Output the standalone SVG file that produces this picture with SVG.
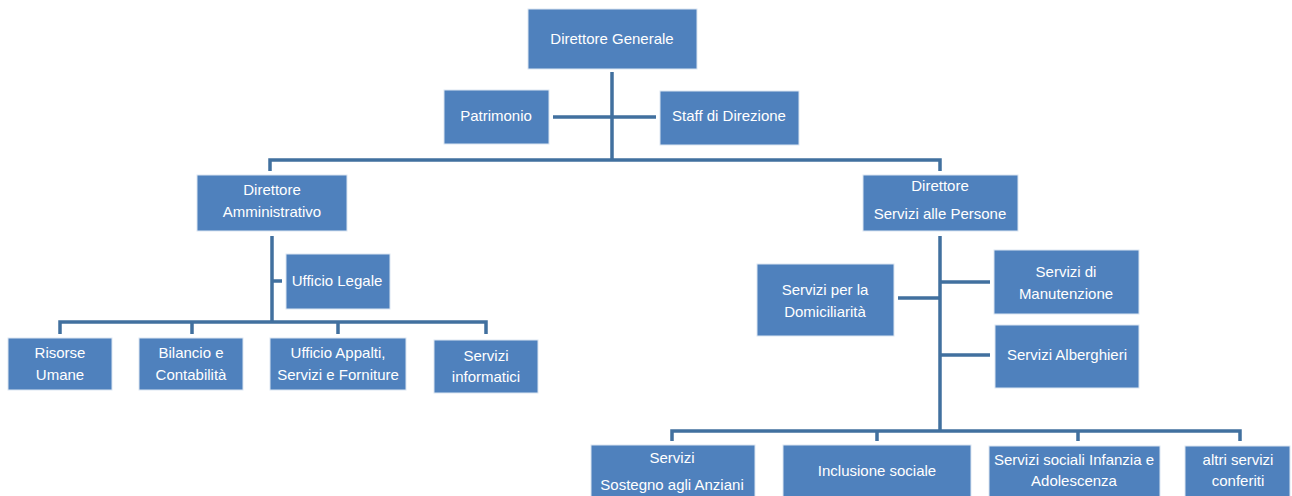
<svg xmlns="http://www.w3.org/2000/svg" width="1292" height="496" viewBox="0 0 1292 496">
<style>
.box{fill:#4F81BD;stroke:#DCE6F2;stroke-width:1}
.t{font-family:"Liberation Sans",Arial,sans-serif;font-size:15px;fill:#FFFFFF;text-anchor:middle}
.c{stroke:#41709F;stroke-width:3.5;fill:none}
</style>
<rect width="1292" height="496" fill="#FFFFFF"/>
<g id="connectors">
<path class="c" d="M612 72V161M553 117H656M270 171V160H940V171"/>
<path class="c" d="M272 236V322M272 281H282M60 334V322H486V334M192 322V334M338 322V334"/>
<path class="c" d="M940 236V431M898 298H940M940 282H990M940 355H990M672 441V431H1240V441M877 431V441M1078 431V441"/>
</g>
<g id="dg"><rect class="box" x="528" y="9" width="169" height="60"/><text class="t" x="612" y="44">Direttore Generale</text></g>
<g id="patrimonio"><rect class="box" x="444" y="90" width="105" height="54"/><text class="t" x="496" y="121">Patrimonio</text></g>
<g id="staff"><rect class="box" x="660" y="91" width="139" height="54"/><text class="t" x="729" y="121">Staff di Direzione</text></g>
<g id="da"><rect class="box" x="197" y="175" width="150" height="56"/><text class="t" x="272" y="195">Direttore</text><text class="t" x="272" y="217">Amministrativo</text></g>
<g id="dsp"><rect class="box" x="863" y="175" width="155" height="56"/><text class="t" x="940" y="191">Direttore</text><text class="t" x="940" y="219">Servizi alle Persone</text></g>
<g id="legale"><rect class="box" x="286" y="254" width="104" height="55"/><text class="t" x="337" y="286">Ufficio Legale</text></g>
<g id="risorse"><rect class="box" x="8" y="338" width="104" height="52"/><text class="t" x="60" y="358">Risorse</text><text class="t" x="60" y="380">Umane</text></g>
<g id="bilancio"><rect class="box" x="139" y="338" width="104" height="52"/><text class="t" x="191" y="358">Bilancio e</text><text class="t" x="191" y="380">Contabilità</text></g>
<g id="appalti"><rect class="box" x="270" y="338" width="136" height="52"/><text class="t" x="338" y="358">Ufficio Appalti,</text><text class="t" x="338" y="380">Servizi e Forniture</text></g>
<g id="informatici"><rect class="box" x="434" y="340" width="104" height="53"/><text class="t" x="486" y="361">Servizi</text><text class="t" x="486" y="382">informatici</text></g>
<g id="domiciliarita"><rect class="box" x="757" y="264" width="137" height="72"/><text class="t" x="825" y="295">Servizi  per la</text><text class="t" x="825" y="317">Domiciliarità</text></g>
<g id="manutenzione"><rect class="box" x="994" y="250" width="145" height="64"/><text class="t" x="1066" y="277">Servizi  di</text><text class="t" x="1066" y="299">Manutenzione</text></g>
<g id="alberghieri"><rect class="box" x="995" y="325" width="144" height="63"/><text class="t" x="1067" y="360">Servizi Alberghieri</text></g>
<g id="anziani"><rect class="box" x="591" y="445" width="164" height="55"/><text class="t" x="672" y="463">Servizi</text><text class="t" x="672" y="490">Sostegno agli Anziani</text></g>
<g id="inclusione"><rect class="box" x="783" y="445" width="188" height="55"/><text class="t" x="877" y="476">Inclusione sociale</text></g>
<g id="infanzia"><rect class="box" x="989" y="446" width="171" height="54"/><text class="t" x="1074" y="465">Servizi sociali Infanzia e</text><text class="t" x="1074" y="486">Adolescenza</text></g>
<g id="altri"><rect class="box" x="1185" y="446" width="105" height="54"/><text class="t" x="1238" y="465">altri servizi</text><text class="t" x="1238" y="486">conferiti</text></g>
</svg>
